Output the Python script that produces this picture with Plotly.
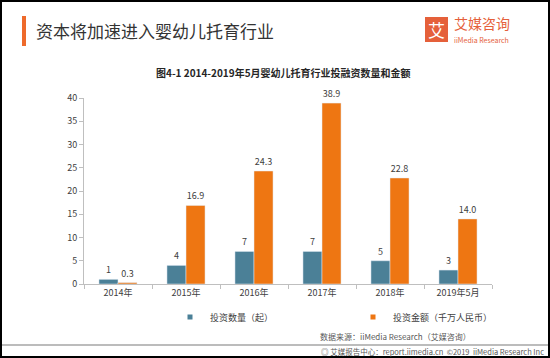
import plotly.graph_objects as go

categories = ["2014年", "2015年", "2016年", "2017年", "2018年", "2019年5月"]
deal_counts = [1, 4, 7, 7, 5, 3]
deal_amounts = [0.3, 16.9, 24.3, 38.9, 22.8, 14.0]
y_ticks = [0, 5, 10, 15, 20, 25, 30, 35, 40]
series_names = ["投资数量（起）", "投资金额（千万人民币）"]

W, H = 550, 358
FONT = "Noto Sans CJK SC"
BLUE = "#4B8097"
ORANGE = "#EE7612"

def px(x):
    return x / W

def py(y):
    return 1 - y / H

fig = go.Figure()
for vals, name, color, tpl in [(deal_counts, series_names[0], BLUE, "%{y}"),
                               (deal_amounts, series_names[1], ORANGE, "%{y:.1f}")]:
    fig.add_trace(go.Bar(
        x=categories, y=vals, name=name, legendgroup=name, showlegend=False,
        marker_color=color, texttemplate=tpl, textposition="outside",
        textfont=dict(size=9, color="#404040", family=FONT), cliponaxis=False,
    ))
for name, color in [(series_names[0], BLUE), (series_names[1], ORANGE)]:
    fig.add_trace(go.Scatter(
        x=[None], y=[None], mode="markers", name=name, legendgroup=name,
        marker=dict(symbol="square", size=5, color=color),
    ))

fig.update_layout(
    width=W, height=H,
    margin=dict(l=0, r=0, t=0, b=0),
    paper_bgcolor="white", plot_bgcolor="white",
    font=dict(family=FONT, color="#595959"),
    barmode="group", bargap=0.44, bargroupgap=0,
    showlegend=True,
    legend=dict(orientation="h", x=px(170), y=py(317), yanchor="middle", xanchor="left",
                font=dict(size=9, color="#404040", family=FONT),
                entrywidth=138, entrywidthmode="pixels",
                itemwidth=30, bgcolor="rgba(0,0,0,0)"),
    xaxis=dict(domain=[px(84), px(492)], showgrid=False, showline=True,
               linecolor="#BFBFBF", linewidth=1, ticks="outside", tickson="boundaries",
               tickcolor="#BFBFBF", ticklen=4, tickfont=dict(size=9, color="#404040"),
               automargin=False),
    yaxis=dict(domain=[py(284), py(98)], range=[0, 40], tickvals=y_ticks,
               showgrid=False, showline=True, linecolor="#BFBFBF", linewidth=1,
               ticks="outside", tickcolor="#BFBFBF", ticklen=4,
               tickfont=dict(size=9, color="#404040"), zeroline=False,
               automargin=False),
)

shapes = [
    dict(type="rect", xref="paper", yref="paper", x0=px(22), x1=px(26), y0=py(46), y1=py(16),
         fillcolor="#EE6A2B", line=dict(width=0)),
    dict(type="rect", xref="paper", yref="paper", x0=px(425), x1=px(448), y0=py(42), y1=py(17),
         fillcolor="#E5603A", line=dict(width=0)),
    dict(type="line", xref="paper", yref="paper", x0=0, x1=1, y0=py(345), y1=py(345),
         line=dict(color="#A6A6A6", width=1.5)),
    dict(type="rect", xref="paper", yref="paper", x0=px(1), x1=px(549), y0=py(357), y1=py(1),
         line=dict(color="black", width=2)),
]
fig.update_layout(shapes=shapes)

ann = [
    dict(text="资本将加速进入婴幼儿托育行业", x=px(34), y=py(31), xanchor="left", yanchor="middle",
         font=dict(size=17, color="#333333", family=FONT)),
    dict(text="艾", x=px(436.5), y=py(29.5), xanchor="center", yanchor="middle",
         font=dict(size=17, color="white", family=FONT)),
    dict(text="艾媒咨询", x=px(452), y=py(23), xanchor="left", yanchor="middle",
         font=dict(size=14, color="#E5603A", family=FONT)),
    dict(text="iiMedia Research", x=px(452), y=py(40), xanchor="left", yanchor="middle",
         font=dict(size=7, color="#E5603A", family=FONT)),
    dict(text="<b>图4-1 2014-2019年5月婴幼儿托育行业投融资数量和金额</b>", x=px(283), y=py(72),
         xanchor="center", yanchor="middle", font=dict(size=10, color="#262626", family=FONT)),
    dict(text="数据来源：iiMedia Research（艾媒咨询）", x=px(395), y=py(336), xanchor="center",
         yanchor="middle", font=dict(size=8, color="#595959", family=FONT)),
    dict(text="◎ 艾媒报告中心：report.iimedia.cn  ©2019  iiMedia Research Inc", x=px(546), y=py(351),
         xanchor="right", yanchor="middle", font=dict(size=7.5, color="#595959", family=FONT)),
]
for a in ann:
    a.update(xref="paper", yref="paper", showarrow=False)
fig.update_layout(annotations=ann)

fig.write_html("out.html", config={"displayModeBar": False},
               post_script="document.body.style.margin='0';document.body.style.overflow='hidden';")
